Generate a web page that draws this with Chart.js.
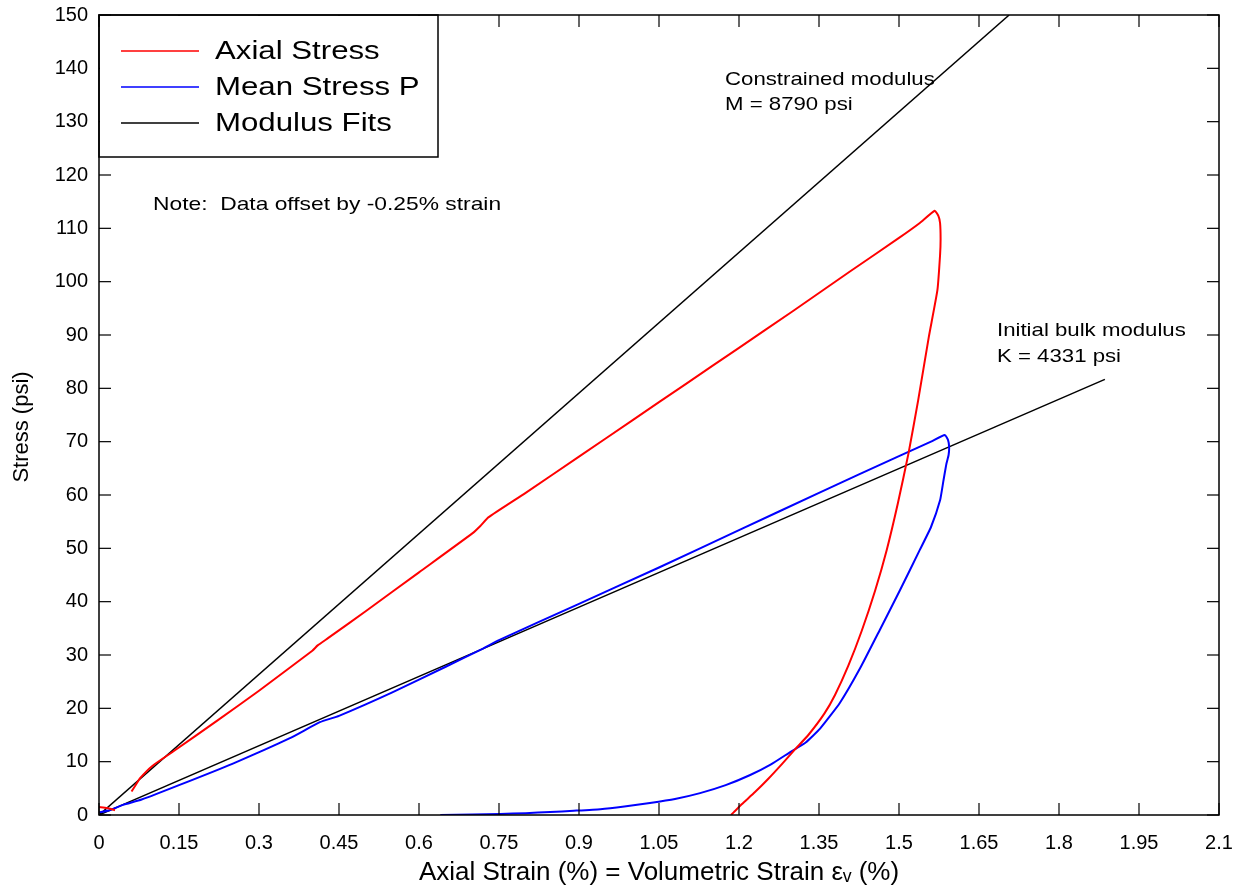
<!DOCTYPE html>
<html>
<head>
<meta charset="utf-8">
<script src="https://cdn.jsdelivr.net/npm/chart.js@4.4.1/dist/chart.umd.min.js"></script>
<style>
html,body{margin:0;padding:0;background:#fff;}
#wrap{width:1244px;height:890px;position:relative;}
</style>
</head>
<body>
<div id="wrap"><canvas id="c" width="1244" height="890"></canvas></div>
<script>
// ---- data ----
const xTickLabels = ["0","0.15","0.3","0.45","0.6","0.75","0.9","1.05","1.2","1.35","1.5","1.65","1.8","1.95","2.1"];
const yTickLabels = ["0","10","20","30","40","50","60","70","80","90","100","110","120","130","140","150"];

const axialStrain = [0,0.015,0.03,null,0.061,0.07,0.077,0.1,0.139,0.223,0.3,0.4,0.41,0.43,0.5,0.6,0.7,0.715,0.73,0.8,0.9,1.0,1.1,1.2,1.3,1.408,1.5,1.539,1.567,
  1.574,1.577,1.578,1.577,1.572,1.556,1.536,1.518,1.498,1.477,1.455,1.43,1.405,1.38,1.36,1.33,1.305,1.28,1.255,1.23,1.205,1.19,1.185];
const axialStress = [1.5,1.3,0.9,null,4.4,5.8,6.9,9.2,11.9,17.8,23.3,30.8,31.8,33.2,38.2,45.5,52.8,54.2,55.8,60.4,67.2,74.0,80.8,87.6,94.4,101.9,108.2,111,113.3,
  112.3,111,108,105,98.4,89.7,77.8,67.9,58.5,49.7,42,34.5,28,22.5,19,15,12.3,9.5,6.8,4.3,2,0.5,0];

const meanStrain = [0,0.02,0.045,0.08,0.15,0.25,0.358,0.414,0.45,0.55,0.65,0.72,0.75,0.9,1.05,1.2,1.35,1.5,1.56,1.586,
  1.592,1.594,1.593,1.589,1.583,1.577,1.56,1.539,1.502,1.464,1.427,1.389,1.352,1.325,1.296,1.26,1.221,1.175,1.127,1.08,1.033,0.985,0.94,0.89,0.846,0.8,0.752,0.7,0.64];
const meanStress = [0.5,0.9,1.9,2.9,5.6,9.6,14.4,17.4,18.6,23.0,27.8,31.2,32.8,39.6,46.4,53.4,60.4,67.3,70.0,71.25,
  70.3,69,67.5,65.9,62.5,59,54,49.7,42.2,34.7,27.5,21,16.2,13.6,11.8,9.5,7.5,5.6,4.1,3.0,2.25,1.6,1.1,0.8,0.56,0.35,0.2,0.08,0];

const constrainedFitStrain = [0, 1.7065];
const constrainedFitStress = [0, 150];
const bulkFitStrain = [0, 1.886];
const bulkFitStress = [0, 81.68];

const seriesLabels = ["Axial Stress","Mean Stress P","Modulus Fits"];
const seriesColors = ["#ff0000","#0000ff","#000000"];
const yTitle = "Stress (psi)";
const xTitle = "Axial Strain (%) = Volumetric Strain \u03b5\u1d65 (%)";

function pts(xs, ys){ return xs.map((x,i)=> (x===null||ys[i]===null) ? {x:null,y:null} : {x:x,y:ys[i]}); }

const FONT = "'Liberation Sans', Arial, Helvetica, sans-serif";
const STRETCH = 1.2;

const annotations = [
  {text:"Note:  Data offset by -0.25% strain", x:153, y:205, size:19},
  {text:"Constrained modulus", x:725, y:80, size:18.5},
  {text:"M = 8790 psi", x:725, y:105, size:18.5},
  {text:"Initial bulk modulus", x:997, y:331, size:18.5},
  {text:"K = 4331 psi", x:997, y:357, size:18.5}
];

function stretchedText(ctx, text, x, y, size){
  ctx.save();
  ctx.translate(x, y);
  ctx.scale(STRETCH, 1);
  ctx.font = size + "px " + FONT;
  ctx.textAlign = 'left';
  ctx.textBaseline = 'middle';
  ctx.fillStyle = '#000';
  ctx.fillText(text, 0, 0);
  ctx.restore();
}

const framePlugin = {
  id:'frame',
  afterDatasetsDraw(chart){
    const {ctx, chartArea:a, scales} = chart;
    ctx.save();
    ctx.strokeStyle = '#000';
    ctx.lineWidth = 1.5;
    ctx.strokeRect(a.left, a.top, a.right-a.left, a.bottom-a.top);
    ctx.lineWidth = 1.2;
    const tl = 12;
    scales.x.ticks.forEach(t=>{
      const px = scales.x.getPixelForValue(t.value);
      ctx.beginPath(); ctx.moveTo(px,a.bottom); ctx.lineTo(px,a.bottom-tl); ctx.stroke();
      ctx.beginPath(); ctx.moveTo(px,a.top); ctx.lineTo(px,a.top+tl); ctx.stroke();
    });
    scales.y.ticks.forEach(t=>{
      const py = scales.y.getPixelForValue(t.value);
      ctx.beginPath(); ctx.moveTo(a.left,py); ctx.lineTo(a.left+tl,py); ctx.stroke();
      ctx.beginPath(); ctx.moveTo(a.right,py); ctx.lineTo(a.right-tl,py); ctx.stroke();
    });
    // legend box
    ctx.fillStyle = '#fff';
    ctx.fillRect(a.left+1, a.top+1, 338, 141);
    ctx.strokeStyle = '#000';
    ctx.lineWidth = 1.5;
    ctx.strokeRect(a.left, a.top, 339, 142);
    seriesLabels.forEach((lab,i)=>{
      const y = a.top + 36 + i*36;
      ctx.strokeStyle = seriesColors[i];
      ctx.lineWidth = 1.3;
      ctx.beginPath(); ctx.moveTo(a.left+22,y); ctx.lineTo(a.left+100,y); ctx.stroke();
      stretchedText(ctx, lab, a.left+116, y+1, 26);
    });
    annotations.forEach(n=> stretchedText(ctx, n.text, n.x, n.y, n.size));
    // y axis title
    ctx.save();
    ctx.translate(22, 427);
    ctx.rotate(-Math.PI/2);
    ctx.font = "22px " + FONT;
    ctx.fillStyle = '#000';
    ctx.textAlign = 'center';
    ctx.textBaseline = 'middle';
    ctx.fillText(yTitle, 0, 0);
    ctx.restore();
    ctx.restore();
  }
};

new Chart(document.getElementById('c'), {
  type:'line',
  data:{
    datasets:[
      {label:seriesLabels[0], data:pts(axialStrain, axialStress), borderColor:seriesColors[0], borderWidth:2, pointRadius:0, tension:0.15, spanGaps:false},
      {label:seriesLabels[1], data:pts(meanStrain, meanStress), borderColor:seriesColors[1], borderWidth:2, pointRadius:0, tension:0.15},
      {label:seriesLabels[2], data:pts(constrainedFitStrain, constrainedFitStress), borderColor:seriesColors[2], borderWidth:1.5, pointRadius:0},
      {label:seriesLabels[2]+" K", data:pts(bulkFitStrain, bulkFitStress), borderColor:seriesColors[2], borderWidth:1.5, pointRadius:0}
    ]
  },
  options:{
    responsive:false,
    animation:false,
    devicePixelRatio:1,
    layout:{padding:{top:15,right:25,left:0,bottom:0}},
    plugins:{legend:{display:false}, tooltip:{enabled:false}},
    scales:{
      x:{
        type:'linear', min:0, max:2.1,
        afterBuildTicks(s){ s.ticks = xTickLabels.map(v=>({value:parseFloat(v)})); },
        afterFit(s){ s.height = 75; s.paddingLeft = 0; s.paddingRight = 0; },
        grid:{display:false, drawTicks:false},
        border:{display:false},
        ticks:{color:'#000', font:{family:FONT,size:20}, padding:16, maxRotation:0, autoSkip:false,
          callback:(v,i)=> xTickLabels[i]},
        title:{display:true, text:xTitle, color:'#000', font:{family:FONT,size:26}, padding:{top:0,bottom:2}}
      },
      y:{
        type:'linear', min:0, max:150,
        afterBuildTicks(s){ s.ticks = yTickLabels.map(v=>({value:parseFloat(v)})); },
        afterFit(s){ s.width = 99; s.paddingTop = 0; s.paddingBottom = 0; },
        grid:{display:false, drawTicks:false},
        border:{display:false},
        ticks:{color:'#000', font:{family:FONT,size:20}, padding:11, autoSkip:false,
          callback:(v,i)=> yTickLabels[i]},
        title:{display:false}
      }
    }
  },
  plugins:[framePlugin]
});
</script>
</body>
</html>
